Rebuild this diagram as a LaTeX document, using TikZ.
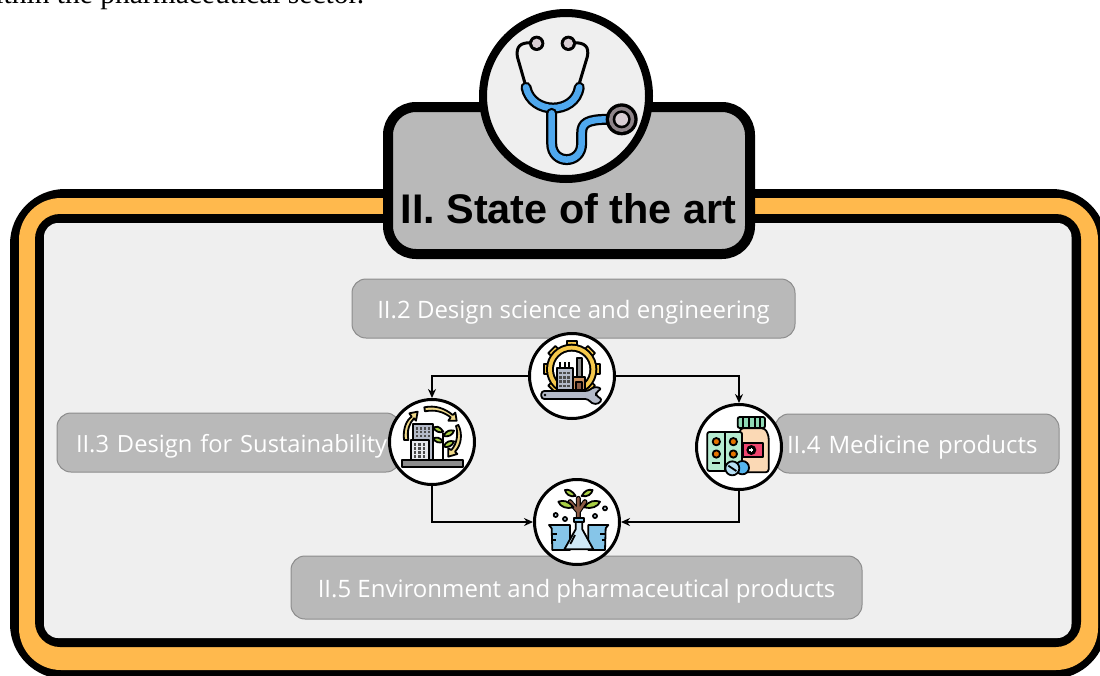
\documentclass[tikz,border=0pt]{standalone}
\usepackage{fontspec}
\setmainfont{Liberation Serif}
\newfontfamily\titlefont{Liberation Sans}
\newfontfamily\pillfont{Open Sans}
\usetikzlibrary{arrows.meta}
\definecolor{panel}{HTML}{EFEFEF}
\definecolor{boxgrey}{HTML}{B9B9B9}
\definecolor{pilledge}{HTML}{8C8C8C}
\definecolor{orangeband}{HTML}{FFB94D}
\definecolor{stethblue}{HTML}{4FA8EE}
\definecolor{goldring}{HTML}{F5C84B}
\definecolor{steel}{HTML}{B4BAC8}
\definecolor{brownish}{HTML}{C98F5E}
\definecolor{sand}{HTML}{F0D98A}
\definecolor{leaf}{HTML}{A9CF45}
\definecolor{mint}{HTML}{B5EBD0}
\definecolor{peach}{HTML}{FBD9B5}
\definecolor{rosered}{HTML}{F0476F}
\definecolor{tealcap}{HTML}{8FD9B4}
\definecolor{pillblue}{HTML}{55B5EE}
\definecolor{pale}{HTML}{CFE9F7}
\definecolor{beaker}{HTML}{86C5E8}
\definecolor{barkbrown}{HTML}{8B5A44}
\definecolor{mauve}{HTML}{8E8489}
\definecolor{lightmauve}{HTML}{D8CDD3}
\newcommand\pilltext[1]{\raisebox{-4pt}[\height][\depth]{#1}}
\tikzset{
  x=1pt,y=-1pt,
  pillbox/.style={draw=pilledge,line width=1pt,fill=boxgrey,rounded corners=14pt,text=white,font=\pillfont\fontsize{24}{28}\selectfont,inner sep=0pt,anchor=center},
  iconring/.style={circle,draw=black,line width=3pt,fill=white,minimum size=85pt,inner sep=0pt},
  link/.style={draw=black,line width=2pt,-{Stealth[length=9pt,width=8pt]}},
  ic/.style={draw=black,line width=1.8pt,line join=round},
}
\begin{document}
\begin{tikzpicture}
\useasboundingbox (0,0) rectangle (1100,675);
\clip (0,0) rectangle (1100,675);
% clipped sentence
\node[anchor=base west,inner sep=0pt,font=\fontsize{29.5}{32}\selectfont] (sentence) at (-26,3.5) {within the pharmaceutical sector.};
% frame
\fill[black,rounded corners=55pt] (10,189) rectangle (1107,679);
\fill[orangeband,rounded corners=42pt] (19,198) rectangle (1098,670);
\fill[black,rounded corners=25pt] (35,214) rectangle (1081,647);
\fill[panel,rounded corners=14pt] (44,223) rectangle (1071.5,638);
% title box
\node[draw=black,line width=10pt,fill=boxgrey,rounded corners=28pt,minimum width=362pt,minimum height=147pt,inner sep=0pt] (titlebox) at (569,180.5) {};
\node[anchor=base,inner sep=0pt,font=\titlefont\bfseries\fontsize{41.4}{46}\selectfont] (titletext) at (568.5,223) {II. State of the art};
\node[circle,draw=black,line width=8pt,fill=panel,minimum size=166pt,inner sep=0pt] (steth) at (566,96) {};
% stethoscope
\begin{scope}[shift={(470,0)},scale=1/3]
 \draw[black,line width=3pt,line join=round] (182,128) .. controls (150,128) and (138,140) .. (142,170) -- (165,250);
 \draw[black,line width=3pt,line join=round] (312,128) .. controls (345,128) and (358,140) .. (352,170) -- (328,250);
 \fill[black] (200,130) circle (23);
 \fill[black] (295,130) circle (23);
 \fill[lightmauve] (200,130) circle (14);
 \fill[lightmauve] (295,130) circle (14);
 \draw[black,line width=11pt,line cap=round] (168,262) .. controls (185,345) and (315,345) .. (328,262);
 \draw[stethblue,line width=6.5pt,line cap=round] (168,262) .. controls (185,345) and (315,345) .. (328,262);
 \draw[black,line width=11pt,line cap=round,line join=round] (245,340) -- (245,430) .. controls (245,495) and (335,495) .. (335,430) -- (335,400) .. controls (335,370) and (350,358) .. (415,358);
 \draw[stethblue,line width=6.5pt,line cap=round,line join=round] (245,340) -- (245,430) .. controls (245,495) and (335,495) .. (335,430) -- (335,400) .. controls (335,370) and (350,358) .. (415,358);
 \fill[black] (455,358) circle (48);
 \fill[mauve] (455,358) circle (38);
 \fill[black] (455,358) circle (27);
 \fill[lightmauve] (455,358) circle (19);
\end{scope}
% pills
\node[pillbox,minimum width=443pt,minimum height=59pt] (p2) at (573.5,308.5) {\pilltext{II.2 Design science and engineering}};
\node[pillbox,minimum width=343pt,minimum height=59pt,text width=343pt,align=left,font=\pillfont\fontsize{23.7}{28}\selectfont] (p3) at (228.5,442.5) {\hspace*{19pt}\pilltext{II.3 Design for Sustainability}};
\node[pillbox,minimum width=284pt,minimum height=59pt,text width=284pt,align=left] (p4) at (917,443.5) {\hspace*{12pt}\pilltext{II.4 Medicine products}};
\node[pillbox,minimum width=571pt,minimum height=63pt] (p5) at (576.5,587.5) {\pilltext{II.5 Environment and pharmaceutical products}};
% icon rings
\node[iconring] (gear) at (572,376) {};
\node[iconring] (sus) at (432,442) {};
\node[iconring] (med) at (739,447) {};
\node[iconring] (lab) at (577,522) {};
% connectors
\draw[link] (gear) -| (sus);
\draw[link] (gear) -| (med);
\draw[link] (sus) |- (lab);
\draw[link] (med) |- (lab);
% gear icon
\begin{scope}[shift={(520,325)},scale=1/3]
 \foreach \a in {0,45,...,315}{
  \begin{scope}[shift={(155,133)},rotate=\a]
   \draw[ic,fill=goldring] (60,-15) rectangle (84,15);
  \end{scope}}
 \fill[black] (155,133) circle (77);
 \fill[goldring] (155,133) circle (71);
 \fill[black] (155,133) circle (59);
 \fill[white] (155,133) circle (53);
 \draw[ic,fill=steel] (112,128) rectangle (158,195);
 \foreach \yy in {140,153,166,179}{\foreach \xx in {118,130,142}{\fill[black!70] (\xx,\yy) rectangle +(8,8);}}
 \draw[ic] (120,128) -- (120,112) (135,128) -- (135,112) (148,128) -- (148,112);
 \draw[ic,fill=brownish] (160,155) rectangle (195,195);
 \draw[ic,fill=black!45] (170,100) rectangle (186,155);
 \draw[ic,fill=barkbrown] (168,172) rectangle (186,195);
 \draw[ic,fill=steel,rounded corners=3pt] (64,198) -- (205,198) -- (222,185) -- (246,190) -- (228,202) -- (228,213) -- (247,222) -- (236,237) -- (215,236) -- (205,222) -- (64,222) -- cycle;
 \fill[black] (75,210) circle (4);
\end{scope}
% sustainability icon
\begin{scope}[shift={(380,390)},scale=1/3]
 \draw[ic,fill=sand] (72,150) .. controls (68,115) and (80,90) .. (95,80) -- (88,70) -- (113,65) -- (108,92) -- (102,85) .. controls (88,100) and (80,120) .. (85,150) -- cycle;
 \draw[ic,fill=sand] (133,52) .. controls (165,45) and (195,55) .. (218,75) -- (226,68) -- (230,92) -- (205,92) -- (212,82) .. controls (190,65) and (165,58) .. (135,64) -- cycle;
 \draw[ic,fill=sand] (235,105) .. controls (248,130) and (245,165) .. (225,185) -- (232,192) -- (205,200) -- (205,175) -- (214,180) .. controls (232,160) and (235,130) .. (228,108) -- cycle;
 \draw[ic,fill=steel] (100,103) rectangle (160,210);
 \foreach \yy in {112,123,134}{\foreach \xx in {108,120,132,144}{\fill[black!70] (\xx,\yy) rectangle +(7,7);}}
 \draw[ic,fill=white!70!steel] (93,150) rectangle (148,210);
 \foreach \yy in {160,172,184,196}{\foreach \xx in {102,115,128}{\fill[black!70] (\xx,\yy) rectangle +(7,7);}}
 \draw[ic] (190,130) -- (190,210);
 \draw[ic,fill=leaf] (190,125) .. controls (175,105) and (170,110) .. (160,112) .. controls (165,125) and (180,130) .. (190,125) -- cycle;
 \draw[ic,fill=leaf] (190,138) .. controls (200,120) and (210,120) .. (222,122) .. controls (218,135) and (205,142) .. (190,138) -- cycle;
 \draw[ic,fill=leaf] (190,155) .. controls (178,140) and (170,142) .. (160,145) .. controls (165,158) and (180,160) .. (190,155) -- cycle;
 \draw[ic,fill=leaf] (190,170) .. controls (200,152) and (210,152) .. (222,154) .. controls (218,167) and (205,174) .. (190,170) -- cycle;
 \draw[ic,fill=black!45] (65,210) rectangle (248,232);
\end{scope}
% medicine icon
\begin{scope}[shift={(690,395)},scale=1/3]
 \draw[ic,fill=peach,rounded corners=3pt] (150,100) -- (225,100) -- (236,122) -- (236,232) -- (150,232) -- cycle;
 \draw[ic,fill=rosered] (160,145) rectangle (220,186);
 \fill[black] (184,165) circle (15);
 \fill[white] (178,163) rectangle (190,167);
 \fill[white] (182,159) rectangle (186,171);
 \draw[ic,fill=tealcap,rounded corners=2pt] (143,66) rectangle (225,99);
 \foreach \xx in {160,177,194,210}{\draw[ic] (\xx,66) -- (\xx,99);}
 \draw[ic,fill=mint,rounded corners=2pt] (52,111) rectangle (156,228);
 \draw[ic] (104,111) -- (104,228);
 \foreach \xx in {79,130}{\foreach \yy in {140,177}{\draw[ic,fill=orange!90!black] (\xx,\yy) circle (11);}}
 \draw[ic] (66,205) -- (90,205);
 \draw[ic,fill=pillblue] (157,218) circle (20);
 \draw[ic,fill=pale!80!pillblue] (127,220) circle (21);
 \draw[ic] (115,212) -- (139,228);
\end{scope}
% plant and flask icon
\begin{scope}[shift={(525,470)},scale=1/3]
 \draw[black,line width=5pt,line cap=round] (160,145) -- (160,85) (160,125) -- (135,95) (160,125) -- (180,95);
 \draw[barkbrown,line width=2.8pt,line cap=round] (160,145) -- (160,85) (160,125) -- (135,95) (160,125) -- (180,95);
 \draw[ic,fill=leaf] (152,78) .. controls (140,60) and (130,58) .. (120,60) .. controls (122,72) and (135,82) .. (152,78) -- cycle;
 \draw[ic,fill=leaf] (170,78) .. controls (180,60) and (190,58) .. (203,60) .. controls (200,72) and (188,82) .. (170,78) -- cycle;
 \draw[ic,fill=leaf] (145,112) .. controls (130,92) and (115,90) .. (100,95) .. controls (105,110) and (125,118) .. (145,112) -- cycle;
 \draw[ic,fill=leaf] (178,112) .. controls (190,92) and (210,90) .. (225,95) .. controls (220,110) and (198,118) .. (178,112) -- cycle;
 \foreach \xx/\yy in {92/135,120/147,210/138,240/115}{\draw[ic,fill=pale] (\xx,\yy) circle (6);}
 \draw[ic,fill=beaker] (72,165) -- (135,165) -- (135,240) -- (82,240) -- (80,175) -- cycle;
 \draw[ic,fill=beaker] (190,165) -- (250,165) -- (242,175) -- (240,240) -- (190,240) -- cycle;
 \draw[ic] (82,192) -- (96,192) (82,210) -- (92,210) (240,192) -- (226,192) (240,210) -- (230,210);
 \draw[ic,fill=pale] (152,155) -- (172,155) -- (172,178) -- (205,238) -- (118,238) -- (152,178) -- cycle;
 \draw[ic,fill=beaker] (148,145) rectangle (176,157);
 \draw[ic] (136,222) -- (150,195);
\end{scope}
\end{tikzpicture}
\end{document}
